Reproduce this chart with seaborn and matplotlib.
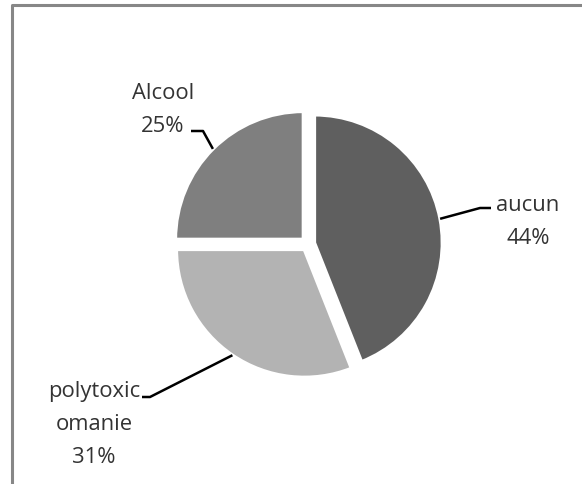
import matplotlib.pyplot as plt
import numpy as np
import seaborn as sns

# Data
categories = ['aucun', 'polytoxicomanie', 'Alcool']
label_text = ['aucun', 'polytoxic\nomanie', 'Alcool']
values = [44, 31, 25]
colors = ['#5f5f5f', '#b3b3b3', '#7f7f7f']

# label layout (pixel coords, y from top): last-line baseline + elbow of leader line
label_pos = [(528, 244), (94, 463), (163, 132)]
elbow_pos = [(480, 209), (150, 398), (203, 132)]
line_end = [(491, 209), (142, 398), (191, 132)]

sns.set_theme(style='white')
plt.rcParams['font.family'] = ['Open Sans', 'DejaVu Sans']

W, H = 582, 485
fig = plt.figure(figsize=(W / 100, H / 100), dpi=100)
ax = fig.add_axes([0, 0, 1, 1])

center = (308, H - 245)
radius = 128
# explode is in data units here (pixels)
wedges, _ = ax.pie(values, colors=colors, startangle=90, counterclock=False,
                   explode=[6.5] * len(values), center=center, radius=radius,
                   wedgeprops=dict(edgecolor='white', linewidth=2.5))

ax.set_xlim(0, W)
ax.set_ylim(0, H)
ax.set_aspect('equal')
ax.set_axis_off()

total = sum(values)
for i, w in enumerate(wedges):
    mid = np.deg2rad((w.theta1 + w.theta2) / 2)
    cx, cy = w.center
    anchor = (cx + w.r * np.cos(mid), cy + w.r * np.sin(mid))
    ex, ey = elbow_pos[i]
    lx, ly = line_end[i]
    ax.plot([anchor[0], ex, lx], [anchor[1], H - ey, H - ly], color='black', lw=1.8,
            solid_capstyle='butt')
    txt = f'{label_text[i]}\n{round(values[i] / total * 100)}%'
    px, py = label_pos[i]
    ax.text(px, H - py, txt, ha='center', va='baseline', fontsize=15.8,
            color='#333333', linespacing=1.74, multialignment='center')

# chart frame
ax.plot([12, 12, W + 5], [-5, H - 6, H - 6], color='#878787', lw=2.2, clip_on=False)

fig.savefig('out.png', dpi=100)
